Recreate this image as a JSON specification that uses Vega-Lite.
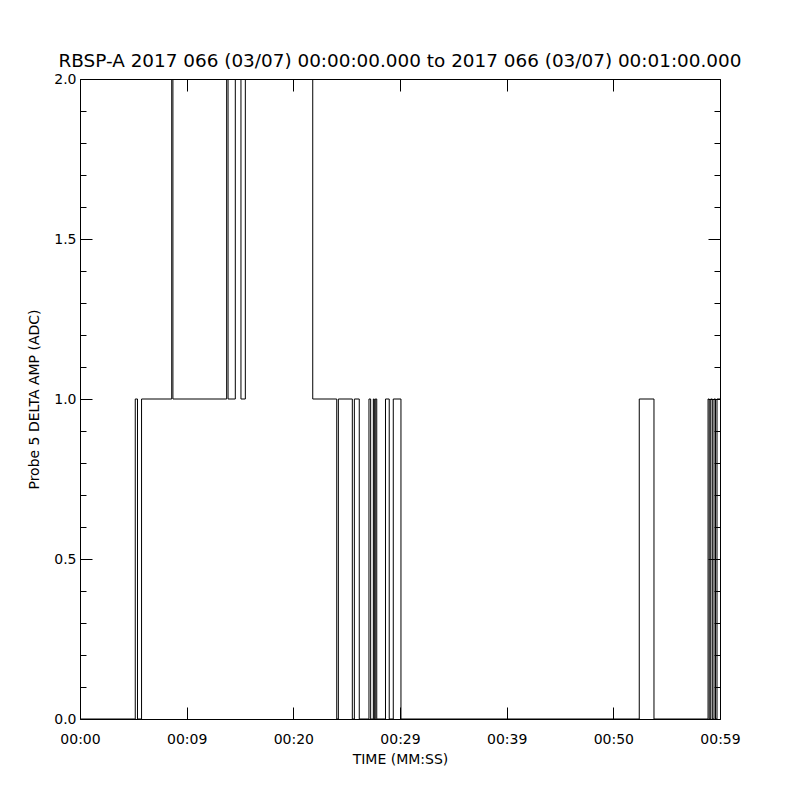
{
  "$schema": "https://vega.github.io/schema/vega-lite/v6.json",
  "width": 640,
  "height": 640,
  "autosize": {"type": "none"},
  "padding": {"left": 80, "top": 79, "right": 80, "bottom": 81},
  "background": "white",
  "title": {
    "text": "RBSP-A 2017 066 (03/07) 00:00:00.000 to 2017 066 (03/07) 00:01:00.000",
    "font": "DejaVu Sans",
    "fontSize": 18.4,
    "fontWeight": "normal",
    "color": "black",
    "anchor": "middle",
    "offset": 2
  },
  "data": {
    "values": [
      {"t": 0, "v": 0},
      {"t": 5.18, "v": 1},
      {"t": 5.39, "v": 0},
      {"t": 5.77, "v": 1},
      {"t": 8.6, "v": 2},
      {"t": 8.71, "v": 1},
      {"t": 13.75, "v": 2},
      {"t": 13.88, "v": 1},
      {"t": 14.56, "v": 2},
      {"t": 15.09, "v": 1},
      {"t": 15.5, "v": 2},
      {"t": 21.82, "v": 1},
      {"t": 24.07, "v": 0},
      {"t": 24.22, "v": 1},
      {"t": 25.53, "v": 0},
      {"t": 25.72, "v": 1},
      {"t": 26.18, "v": 0},
      {"t": 27.09, "v": 1},
      {"t": 27.25, "v": 0},
      {"t": 27.5, "v": 1},
      {"t": 27.59, "v": 0},
      {"t": 27.68, "v": 1},
      {"t": 27.82, "v": 0},
      {"t": 28.64, "v": 1},
      {"t": 28.99, "v": 0},
      {"t": 29.37, "v": 1},
      {"t": 30.09, "v": 0},
      {"t": 52.43, "v": 1},
      {"t": 53.81, "v": 0},
      {"t": 58.88, "v": 1},
      {"t": 58.99, "v": 0},
      {"t": 59.13, "v": 1},
      {"t": 59.28, "v": 0},
      {"t": 59.44, "v": 1},
      {"t": 59.58, "v": 0},
      {"t": 59.72, "v": 1},
      {"t": 60, "v": 1}
    ]
  },
  "layer": [
    {
      "mark": {"type": "line", "interpolate": "step-after", "color": "black", "strokeWidth": 1, "clip": true},
      "encoding": {
        "x": {
          "field": "t",
          "type": "quantitative",
          "scale": {"domain": [0, 60], "nice": false, "zero": false},
          "axis": {
            "orient": "bottom",
            "values": [0, 10, 20, 30, 40, 50, 60],
            "labelExpr": "['00:00','00:09','00:20','00:29','00:39','00:50','00:59'][round(datum.value/10)]",
            "tickSize": -12,
            "labelPadding": 25,
            "labelFlush": false,
            "labelOverlap": false,
            "title": "TIME (MM:SS)",
            "titlePadding": 6
          }
        },
        "y": {
          "field": "v",
          "type": "quantitative",
          "scale": {"domain": [0, 2], "nice": false, "zero": false},
          "axis": {
            "orient": "left",
            "values": [0, 0.1, 0.2, 0.3, 0.4, 0.5, 0.6, 0.7, 0.8, 0.9, 1, 1.1, 1.2, 1.3, 1.4, 1.5, 1.6, 1.7, 1.8, 1.9, 2],
            "labelExpr": "abs(datum.value*2 - round(datum.value*2)) < 0.001 ? format(datum.value, '.1f') : ''",
            "tickSize": {"condition": {"test": "abs(datum.value*2 - round(datum.value*2)) < 0.001", "value": -12}, "value": -6},
            "labelPadding": 16,
            "labelFlush": false,
            "labelOverlap": false,
            "labelBaseline": "middle",
            "title": "Probe 5 DELTA AMP (ADC)",
            "titlePadding": 12
          }
        }
      }
    },
    {
      "mark": {"type": "line", "interpolate": "step-after", "opacity": 0},
      "encoding": {
        "x": {
          "field": "t",
          "type": "quantitative",
          "scale": {"domain": [0, 60], "nice": false, "zero": false},
          "axis": {
            "orient": "top",
            "values": [0, 10, 20, 30, 40, 50, 60],
            "tickSize": -12,
            "labels": false,
            "title": null
          }
        },
        "y": {
          "field": "v",
          "type": "quantitative",
          "scale": {"domain": [0, 2], "nice": false, "zero": false},
          "axis": {
            "orient": "right",
            "values": [0, 0.1, 0.2, 0.3, 0.4, 0.5, 0.6, 0.7, 0.8, 0.9, 1, 1.1, 1.2, 1.3, 1.4, 1.5, 1.6, 1.7, 1.8, 1.9, 2],
            "tickSize": {"condition": {"test": "abs(datum.value*2 - round(datum.value*2)) < 0.001", "value": -12}, "value": -6},
            "labels": false,
            "title": null
          }
        }
      }
    }
  ],
  "resolve": {"axis": {"x": "independent", "y": "independent"}},
  "config": {
    "view": {"stroke": "black", "strokeWidth": 1},
    "axis": {
      "domain": false,
      "grid": false,
      "tickColor": "black",
      "tickWidth": 1,
      "labelColor": "black",
      "labelFont": "DejaVu Sans",
      "labelFontSize": 14,
      "titleColor": "black",
      "titleFont": "DejaVu Sans",
      "titleFontSize": 14,
      "titleFontWeight": "normal"
    }
  }
}
